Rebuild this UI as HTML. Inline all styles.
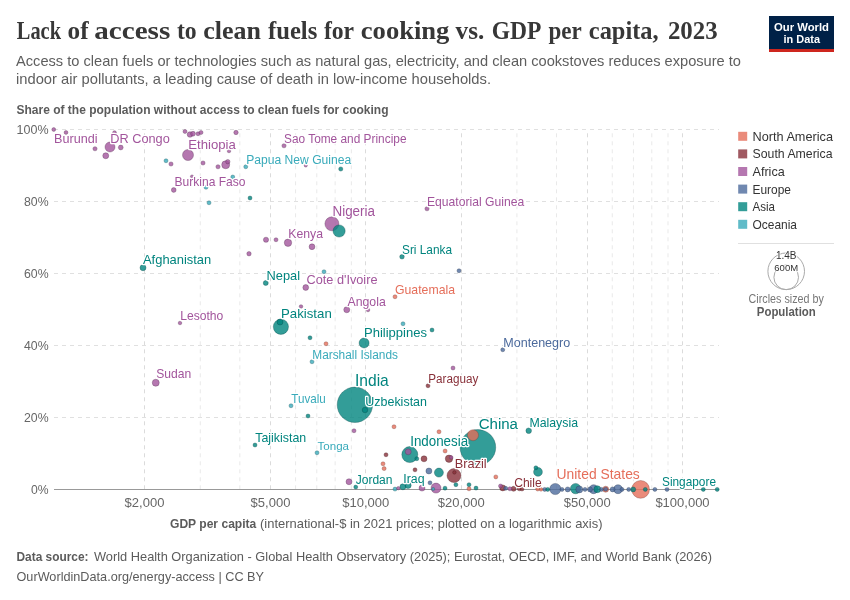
<!DOCTYPE html>
<html><head><meta charset="utf-8"><title>Lack of access to clean fuels for cooking vs. GDP per capita, 2023</title>
<style>
html,body{margin:0;padding:0;background:#fff;}
body{width:850px;height:600px;overflow:hidden;font-family:"Liberation Sans",sans-serif;}
svg{display:block;will-change:transform;}
text{font-family:"Liberation Sans",sans-serif;}
.ser{font-family:"Liberation Serif",serif;}
</style></head><body>
<svg width="850" height="600" viewBox="0 0 850 600">
<rect width="850" height="600" fill="#fff"/>
<g class="ser" font-size="25.4" font-weight="700" fill="#373737"><text class="ser" x="16.8" y="38.8" textLength="44.2" lengthAdjust="spacingAndGlyphs">Lack</text><text class="ser" x="67.6" y="38.8" textLength="21.0" lengthAdjust="spacingAndGlyphs">of</text><text class="ser" x="94.3" y="38.8" textLength="76.0" lengthAdjust="spacingAndGlyphs">access</text><text class="ser" x="176.9" y="38.8" textLength="19.7" lengthAdjust="spacingAndGlyphs">to</text><text class="ser" x="203.2" y="38.8" textLength="57.7" lengthAdjust="spacingAndGlyphs">clean</text><text class="ser" x="268.0" y="38.8" textLength="49.3" lengthAdjust="spacingAndGlyphs">fuels</text><text class="ser" x="323.9" y="38.8" textLength="30.2" lengthAdjust="spacingAndGlyphs">for</text><text class="ser" x="360.8" y="38.8" textLength="88.6" lengthAdjust="spacingAndGlyphs">cooking</text><text class="ser" x="455.6" y="38.8" textLength="28.7" lengthAdjust="spacingAndGlyphs">vs.</text><text class="ser" x="491.8" y="38.8" textLength="49.7" lengthAdjust="spacingAndGlyphs">GDP</text><text class="ser" x="548.5" y="38.8" textLength="33.3" lengthAdjust="spacingAndGlyphs">per</text><text class="ser" x="588.8" y="38.8" textLength="69.9" lengthAdjust="spacingAndGlyphs">capita,</text><text class="ser" x="667.9" y="38.8" textLength="49.8" lengthAdjust="spacingAndGlyphs">2023</text></g>
<text x="16" y="66" font-size="15" fill="#5e5e5e" textLength="725" lengthAdjust="spacingAndGlyphs">Access to clean fuels or technologies such as natural gas, electricity, and clean cookstoves reduces exposure to</text>
<text x="16" y="83.5" font-size="15" fill="#5e5e5e" textLength="475" lengthAdjust="spacingAndGlyphs">indoor air pollutants, a leading cause of death in low-income households.</text>
<g><rect x="769" y="16" width="65" height="36" fill="#002147"/><rect x="769" y="49" width="65" height="3" fill="#ce261e"/><text x="774" y="30.5" font-size="11" font-weight="700" fill="#fff" textLength="55" lengthAdjust="spacingAndGlyphs">Our World</text><text x="783.5" y="42.5" font-size="11" font-weight="700" fill="#fff" textLength="36.5" lengthAdjust="spacingAndGlyphs">in Data</text></g>
<text x="16.5" y="113.7" font-size="13" font-weight="700" fill="#5b5b5b" textLength="372" lengthAdjust="spacingAndGlyphs">Share of the population without access to clean fuels for cooking</text>
<g stroke="#e0e0e0" stroke-width="1" stroke-dasharray="4,4" fill="none">
<line x1="54" y1="129.5" x2="719" y2="129.5"/><line x1="54" y1="201.5" x2="719" y2="201.5"/><line x1="54" y1="273.5" x2="719" y2="273.5"/><line x1="54" y1="345.5" x2="719" y2="345.5"/><line x1="54" y1="417.5" x2="719" y2="417.5"/><line x1="144.50" y1="489.3" x2="144.50" y2="129.5" stroke="#dbdbdb"/><line x1="200.27" y1="489.3" x2="200.27" y2="129.5" stroke="#e9e9e9"/><line x1="239.83" y1="489.3" x2="239.83" y2="129.5" stroke="#e9e9e9"/><line x1="270.50" y1="489.3" x2="270.50" y2="129.5" stroke="#dbdbdb"/><line x1="295.59" y1="489.3" x2="295.59" y2="129.5" stroke="#e9e9e9"/><line x1="316.79" y1="489.3" x2="316.79" y2="129.5" stroke="#e9e9e9"/><line x1="335.15" y1="489.3" x2="335.15" y2="129.5" stroke="#e9e9e9"/><line x1="351.35" y1="489.3" x2="351.35" y2="129.5" stroke="#e9e9e9"/><line x1="365.50" y1="489.3" x2="365.50" y2="129.5" stroke="#dbdbdb"/><line x1="461.50" y1="489.3" x2="461.50" y2="129.5" stroke="#dbdbdb"/><line x1="516.93" y1="489.3" x2="516.93" y2="129.5" stroke="#e9e9e9"/><line x1="556.49" y1="489.3" x2="556.49" y2="129.5" stroke="#e9e9e9"/><line x1="587.50" y1="489.3" x2="587.50" y2="129.5" stroke="#dbdbdb"/><line x1="612.25" y1="489.3" x2="612.25" y2="129.5" stroke="#e9e9e9"/><line x1="633.45" y1="489.3" x2="633.45" y2="129.5" stroke="#e9e9e9"/><line x1="651.81" y1="489.3" x2="651.81" y2="129.5" stroke="#e9e9e9"/><line x1="668.01" y1="489.3" x2="668.01" y2="129.5" stroke="#e9e9e9"/><line x1="682.50" y1="489.3" x2="682.50" y2="129.5" stroke="#dbdbdb"/></g>
<line x1="54" y1="489.5" x2="719" y2="489.5" stroke="#999" stroke-width="1"/>
<text x="16.6" y="133.8" font-size="13" fill="#666" textLength="32" lengthAdjust="spacingAndGlyphs">100%</text><text x="24.0" y="205.8" font-size="13" fill="#666" textLength="24.6" lengthAdjust="spacingAndGlyphs">80%</text><text x="24.0" y="277.8" font-size="13" fill="#666" textLength="24.6" lengthAdjust="spacingAndGlyphs">60%</text><text x="24.0" y="349.8" font-size="13" fill="#666" textLength="24.6" lengthAdjust="spacingAndGlyphs">40%</text><text x="24.0" y="421.8" font-size="13" fill="#666" textLength="24.6" lengthAdjust="spacingAndGlyphs">20%</text><text x="31.0" y="493.8" font-size="13" fill="#666" textLength="17.6" lengthAdjust="spacingAndGlyphs">0%</text>
<text x="144.5" y="507" font-size="13" fill="#666" text-anchor="middle">$2,000</text><text x="270.5" y="507" font-size="13" fill="#666" text-anchor="middle">$5,000</text><text x="365.8" y="507" font-size="13" fill="#666" text-anchor="middle">$10,000</text><text x="461.2" y="507" font-size="13" fill="#666" text-anchor="middle">$20,000</text><text x="587.2" y="507" font-size="13" fill="#666" text-anchor="middle">$50,000</text><text x="682.5" y="507" font-size="13" fill="#666" text-anchor="middle">$100,000</text>
<text x="170" y="528" font-size="13" font-weight="700" fill="#5b5b5b" textLength="86.3" lengthAdjust="spacingAndGlyphs">GDP per capita</text><text x="260" y="528" font-size="13" fill="#5b5b5b" textLength="342.5" lengthAdjust="spacingAndGlyphs">(international-$ in 2021 prices; plotted on a logarithmic axis)</text>
<g fill-opacity="0.8" stroke-width="0.5" stroke-opacity="0.65">
<circle cx="477.9" cy="447.4" r="17.8" fill="#00847E" stroke="#00423f"/><circle cx="354.9" cy="404.8" r="17.7" fill="#00847E" stroke="#00423f"/><circle cx="640.6" cy="489.4" r="8.9" fill="#E56E5A" stroke="#72372d"/><circle cx="409.8" cy="454.6" r="8" fill="#00847E" stroke="#00423f"/><circle cx="280.9" cy="326.8" r="7.6" fill="#00847E" stroke="#00423f"/><circle cx="331.9" cy="223.8" r="7" fill="#A2559C" stroke="#512a4e"/><circle cx="454" cy="475.6" r="7" fill="#883039" stroke="#44181c"/><circle cx="339.1" cy="231" r="6.1" fill="#00847E" stroke="#00423f"/><circle cx="555.3" cy="489.0" r="5.6" fill="#4C6A9C" stroke="#26354e"/><circle cx="188" cy="155" r="5.5" fill="#A2559C" stroke="#512a4e"/><circle cx="473" cy="435.2" r="5.5" fill="#E56E5A" stroke="#72372d"/><circle cx="575.6" cy="488.59999999999997" r="5.2" fill="#00847E" stroke="#00423f"/><circle cx="110" cy="147" r="5" fill="#A2559C" stroke="#512a4e"/><circle cx="364.1" cy="343" r="5" fill="#00847E" stroke="#00423f"/><circle cx="436" cy="488.09999999999997" r="5" fill="#A2559C" stroke="#512a4e"/><circle cx="438.9" cy="472.6" r="4.5" fill="#00847E" stroke="#00423f"/><circle cx="593.6" cy="489.2" r="4.5" fill="#4C6A9C" stroke="#26354e"/><circle cx="618" cy="489.2" r="4.5" fill="#4C6A9C" stroke="#26354e"/><circle cx="538" cy="471.9" r="4.4" fill="#00847E" stroke="#00423f"/><circle cx="225.7" cy="164.75" r="4" fill="#A2559C" stroke="#512a4e"/><circle cx="288" cy="242.75" r="3.7" fill="#A2559C" stroke="#512a4e"/><circle cx="449" cy="458.7" r="3.7" fill="#883039" stroke="#44181c"/><circle cx="155.75" cy="382.75" r="3.5" fill="#A2559C" stroke="#512a4e"/><circle cx="579.3" cy="489.4" r="3.5" fill="#4C6A9C" stroke="#26354e"/><circle cx="597.3" cy="489.2" r="3.5" fill="#00847E" stroke="#00423f"/><circle cx="408" cy="485.3" r="3.2" fill="#00847E" stroke="#00423f"/><circle cx="105.75" cy="155.75" r="3" fill="#A2559C" stroke="#512a4e"/><circle cx="143" cy="267.75" r="3" fill="#00847E" stroke="#00423f"/><circle cx="346.75" cy="309.75" r="3" fill="#A2559C" stroke="#512a4e"/><circle cx="280" cy="322" r="3" fill="#00847E" stroke="#00423f"/><circle cx="408.2" cy="451.8" r="3" fill="#A2559C" stroke="#512a4e"/><circle cx="424" cy="458.8" r="3" fill="#883039" stroke="#44181c"/><circle cx="428.9" cy="471" r="3" fill="#4C6A9C" stroke="#26354e"/><circle cx="349" cy="481.75" r="3" fill="#A2559C" stroke="#512a4e"/><circle cx="402.9" cy="486.8" r="3" fill="#00847E" stroke="#00423f"/><circle cx="422" cy="488.09999999999997" r="3" fill="#A2559C" stroke="#512a4e"/><circle cx="502.7" cy="487.9" r="3" fill="#883039" stroke="#44181c"/><circle cx="605.7" cy="489.2" r="3" fill="#E56E5A" stroke="#72372d"/><circle cx="312" cy="246.75" r="2.9" fill="#A2559C" stroke="#512a4e"/><circle cx="305.75" cy="287.5" r="2.9" fill="#A2559C" stroke="#512a4e"/><circle cx="190" cy="134.5" r="2.8" fill="#A2559C" stroke="#512a4e"/><circle cx="365" cy="410" r="2.8" fill="#00847E" stroke="#00423f"/><circle cx="528.7" cy="430.7" r="2.8" fill="#00847E" stroke="#00423f"/><circle cx="266" cy="239.75" r="2.6" fill="#A2559C" stroke="#512a4e"/><circle cx="265.75" cy="283" r="2.5" fill="#00847E" stroke="#00423f"/><circle cx="513.6" cy="488.79999999999995" r="2.5" fill="#883039" stroke="#44181c"/><circle cx="567.7" cy="489.4" r="2.5" fill="#4C6A9C" stroke="#26354e"/><circle cx="590" cy="489.4" r="2.5" fill="#4C6A9C" stroke="#26354e"/><circle cx="612.6" cy="489.4" r="2.5" fill="#4C6A9C" stroke="#26354e"/><circle cx="633.2" cy="489.4" r="2.5" fill="#00847E" stroke="#00423f"/><circle cx="120.75" cy="147.5" r="2.4" fill="#A2559C" stroke="#512a4e"/><circle cx="193" cy="133.75" r="2.4" fill="#A2559C" stroke="#512a4e"/><circle cx="173.75" cy="190" r="2.4" fill="#A2559C" stroke="#512a4e"/><circle cx="402" cy="256.75" r="2.3" fill="#00847E" stroke="#00423f"/><circle cx="236" cy="132.5" r="2.2" fill="#A2559C" stroke="#512a4e"/><circle cx="227.8" cy="161.7" r="2.2" fill="#A2559C" stroke="#512a4e"/><circle cx="249" cy="253.75" r="2.2" fill="#A2559C" stroke="#512a4e"/><circle cx="95" cy="148.75" r="2.1" fill="#A2559C" stroke="#512a4e"/><circle cx="171" cy="164" r="2.1" fill="#A2559C" stroke="#512a4e"/><circle cx="203" cy="163" r="2.1" fill="#A2559C" stroke="#512a4e"/><circle cx="218" cy="166.75" r="2.1" fill="#A2559C" stroke="#512a4e"/><circle cx="284" cy="145.75" r="2.1" fill="#A2559C" stroke="#512a4e"/><circle cx="340.75" cy="169" r="2.1" fill="#00847E" stroke="#00423f"/><circle cx="427" cy="208.75" r="2.1" fill="#A2559C" stroke="#512a4e"/><circle cx="185" cy="131.5" r="2" fill="#A2559C" stroke="#512a4e"/><circle cx="198" cy="133.75" r="2" fill="#A2559C" stroke="#512a4e"/><circle cx="201" cy="132.5" r="2" fill="#A2559C" stroke="#512a4e"/><circle cx="166" cy="160.75" r="2" fill="#38AABA" stroke="#1c555d"/><circle cx="245.75" cy="166.75" r="2" fill="#38AABA" stroke="#1c555d"/><circle cx="232.75" cy="177" r="2" fill="#38AABA" stroke="#1c555d"/><circle cx="206" cy="187.3" r="2" fill="#38AABA" stroke="#1c555d"/><circle cx="209" cy="202.75" r="2" fill="#38AABA" stroke="#1c555d"/><circle cx="250" cy="198" r="2" fill="#00847E" stroke="#00423f"/><circle cx="276" cy="239.75" r="2" fill="#A2559C" stroke="#512a4e"/><circle cx="324" cy="271.75" r="2" fill="#38AABA" stroke="#1c555d"/><circle cx="395" cy="296.75" r="2" fill="#E56E5A" stroke="#72372d"/><circle cx="403" cy="323.75" r="2" fill="#38AABA" stroke="#1c555d"/><circle cx="432" cy="330" r="2" fill="#00847E" stroke="#00423f"/><circle cx="310" cy="337.75" r="2" fill="#00847E" stroke="#00423f"/><circle cx="326" cy="343.75" r="2" fill="#E56E5A" stroke="#72372d"/><circle cx="312" cy="361.75" r="2" fill="#38AABA" stroke="#1c555d"/><circle cx="453" cy="368" r="2" fill="#A2559C" stroke="#512a4e"/><circle cx="428" cy="385.75" r="2" fill="#883039" stroke="#44181c"/><circle cx="291" cy="405.75" r="2" fill="#38AABA" stroke="#1c555d"/><circle cx="459" cy="270.75" r="2" fill="#4C6A9C" stroke="#26354e"/><circle cx="502.75" cy="349.75" r="2" fill="#4C6A9C" stroke="#26354e"/><circle cx="308" cy="416" r="2" fill="#00847E" stroke="#00423f"/><circle cx="354" cy="430.75" r="2" fill="#A2559C" stroke="#512a4e"/><circle cx="394" cy="426.75" r="2" fill="#E56E5A" stroke="#72372d"/><circle cx="439" cy="431.75" r="2" fill="#E56E5A" stroke="#72372d"/><circle cx="255" cy="445" r="2" fill="#00847E" stroke="#00423f"/><circle cx="317" cy="452.75" r="2" fill="#38AABA" stroke="#1c555d"/><circle cx="386" cy="454.75" r="2" fill="#883039" stroke="#44181c"/><circle cx="416.8" cy="458.7" r="2" fill="#00847E" stroke="#00423f"/><circle cx="445.1" cy="451" r="2" fill="#E56E5A" stroke="#72372d"/><circle cx="383" cy="463.8" r="2" fill="#E56E5A" stroke="#72372d"/><circle cx="384.1" cy="468.6" r="2" fill="#E56E5A" stroke="#72372d"/><circle cx="415" cy="469.8" r="2" fill="#883039" stroke="#44181c"/><circle cx="495.8" cy="476.9" r="2" fill="#E56E5A" stroke="#72372d"/><circle cx="355.75" cy="487" r="2" fill="#00847E" stroke="#00423f"/><circle cx="395" cy="489.09999999999997" r="2" fill="#38AABA" stroke="#1c555d"/><circle cx="430" cy="482.8" r="2" fill="#4C6A9C" stroke="#26354e"/><circle cx="445" cy="488.2" r="2" fill="#00847E" stroke="#00423f"/><circle cx="455.9" cy="484.7" r="2" fill="#00847E" stroke="#00423f"/><circle cx="469" cy="484.7" r="2" fill="#00847E" stroke="#00423f"/><circle cx="469" cy="488.79999999999995" r="2" fill="#E56E5A" stroke="#72372d"/><circle cx="476" cy="488.09999999999997" r="2" fill="#00847E" stroke="#00423f"/><circle cx="535.9" cy="467.8" r="2" fill="#00847E" stroke="#00423f"/><circle cx="500.5" cy="486" r="2" fill="#A2559C" stroke="#512a4e"/><circle cx="505.7" cy="488.29999999999995" r="2" fill="#4C6A9C" stroke="#26354e"/><circle cx="509.9" cy="488.79999999999995" r="2" fill="#A2559C" stroke="#512a4e"/><circle cx="519.3" cy="488.79999999999995" r="2" fill="#883039" stroke="#44181c"/><circle cx="522" cy="489.0" r="2" fill="#883039" stroke="#44181c"/><circle cx="537.7" cy="489.0" r="2" fill="#E56E5A" stroke="#72372d"/><circle cx="544.7" cy="489.4" r="2" fill="#4C6A9C" stroke="#26354e"/><circle cx="547.7" cy="489.4" r="2" fill="#00847E" stroke="#00423f"/><circle cx="562" cy="489.4" r="2" fill="#4C6A9C" stroke="#26354e"/><circle cx="585" cy="489.4" r="2" fill="#4C6A9C" stroke="#26354e"/><circle cx="601.5" cy="489.4" r="2" fill="#4C6A9C" stroke="#26354e"/><circle cx="605.7" cy="489.2" r="2" fill="#4C6A9C" stroke="#26354e"/><circle cx="622" cy="489.4" r="2" fill="#4C6A9C" stroke="#26354e"/><circle cx="628.7" cy="489.4" r="2" fill="#4C6A9C" stroke="#26354e"/><circle cx="645.3" cy="489.4" r="2" fill="#00847E" stroke="#00423f"/><circle cx="654.9" cy="489.4" r="2" fill="#4C6A9C" stroke="#26354e"/><circle cx="667" cy="489.4" r="2" fill="#4C6A9C" stroke="#26354e"/><circle cx="703.3" cy="489.4" r="2" fill="#00847E" stroke="#00423f"/><circle cx="717.2" cy="489.4" r="2" fill="#00847E" stroke="#00423f"/><circle cx="53.75" cy="129.5" r="1.9" fill="#A2559C" stroke="#512a4e"/><circle cx="66" cy="132.5" r="1.9" fill="#A2559C" stroke="#512a4e"/><circle cx="114.5" cy="132.6" r="1.9" fill="#A2559C" stroke="#512a4e"/><circle cx="229" cy="151" r="1.8" fill="#A2559C" stroke="#512a4e"/><circle cx="180" cy="323" r="1.8" fill="#A2559C" stroke="#512a4e"/><circle cx="301" cy="306.5" r="1.8" fill="#A2559C" stroke="#512a4e"/><circle cx="368" cy="310" r="1.8" fill="#A2559C" stroke="#512a4e"/><circle cx="451.2" cy="457.4" r="1.8" fill="#A2559C" stroke="#512a4e"/><circle cx="454.4" cy="472.4" r="1.8" fill="#883039" stroke="#44181c"/><circle cx="541" cy="489.4" r="1.8" fill="#E56E5A" stroke="#72372d"/><circle cx="398.3" cy="488.2" r="1.7" fill="#A2559C" stroke="#512a4e"/><circle cx="192" cy="176.5" r="1.6" fill="#A2559C" stroke="#512a4e"/><circle cx="305.75" cy="165.5" r="1.6" fill="#A2559C" stroke="#512a4e"/><circle cx="433.2" cy="489.0" r="1.6" fill="#38AABA" stroke="#1c555d"/></g>
<g stroke="#fff" stroke-width="2.6" paint-order="stroke" stroke-linejoin="round">
<text x="54.0" y="142.5" font-size="13.0" fill="#A2559C" textLength="43.5" lengthAdjust="spacingAndGlyphs">Burundi</text><text x="110.25" y="142.5" font-size="13.1" fill="#A2559C" textLength="59.5" lengthAdjust="spacingAndGlyphs">DR Congo</text><text x="188.25" y="148.8" font-size="13.5" fill="#A2559C" textLength="47.5" lengthAdjust="spacingAndGlyphs">Ethiopia</text><text x="174.5" y="186.2" font-size="12.4" fill="#A2559C" textLength="71.0" lengthAdjust="spacingAndGlyphs">Burkina Faso</text><text x="143.0" y="263.9" font-size="13.3" fill="#00847E" textLength="68.25" lengthAdjust="spacingAndGlyphs">Afghanistan</text><text x="246.25" y="163.75" font-size="12.5" fill="#38AABA" textLength="105.0" lengthAdjust="spacingAndGlyphs">Papua New Guinea</text><text x="284.0" y="142.5" font-size="12.3" fill="#A2559C" textLength="122.5" lengthAdjust="spacingAndGlyphs">Sao Tome and Principe</text><text x="332.5" y="215.75" font-size="13.8" fill="#A2559C" textLength="42.5" lengthAdjust="spacingAndGlyphs">Nigeria</text><text x="288.25" y="238" font-size="12.6" fill="#A2559C" textLength="34.75" lengthAdjust="spacingAndGlyphs">Kenya</text><text x="427.0" y="205.75" font-size="12.6" fill="#A2559C" textLength="97.25" lengthAdjust="spacingAndGlyphs">Equatorial Guinea</text><text x="402.0" y="253.9" font-size="12.2" fill="#00847E" textLength="50.0" lengthAdjust="spacingAndGlyphs">Sri Lanka</text><text x="180.25" y="319.5" font-size="12.4" fill="#A2559C" textLength="43.0" lengthAdjust="spacingAndGlyphs">Lesotho</text><text x="156.25" y="378" font-size="12.4" fill="#A2559C" textLength="35.0" lengthAdjust="spacingAndGlyphs">Sudan</text><text x="266.5" y="279.9" font-size="13.1" fill="#00847E" textLength="33.5" lengthAdjust="spacingAndGlyphs">Nepal</text><text x="306.5" y="284" font-size="13.1" fill="#A2559C" textLength="71.0" lengthAdjust="spacingAndGlyphs">Cote d'Ivoire</text><text x="395.0" y="294.1" font-size="12.6" fill="#E56E5A" textLength="60.0" lengthAdjust="spacingAndGlyphs">Guatemala</text><text x="347.5" y="305.75" font-size="12.6" fill="#A2559C" textLength="38.25" lengthAdjust="spacingAndGlyphs">Angola</text><text x="281.0" y="318" font-size="13.6" fill="#00847E" textLength="50.75" lengthAdjust="spacingAndGlyphs">Pakistan</text><text x="364.0" y="337" font-size="13.4" fill="#00847E" textLength="63.0" lengthAdjust="spacingAndGlyphs">Philippines</text><text x="312.25" y="359" font-size="12.3" fill="#38AABA" textLength="85.75" lengthAdjust="spacingAndGlyphs">Marshall Islands</text><text x="355.0" y="385.6" font-size="15.9" fill="#00847E" textLength="33.75" lengthAdjust="spacingAndGlyphs">India</text><text x="428.25" y="382.9" font-size="12.0" fill="#883039" textLength="50.0" lengthAdjust="spacingAndGlyphs">Paraguay</text><text x="291.25" y="402.5" font-size="11.9" fill="#38AABA" textLength="34.5" lengthAdjust="spacingAndGlyphs">Tuvalu</text><text x="365.25" y="406.3" font-size="12.9" fill="#00847E" textLength="61.75" lengthAdjust="spacingAndGlyphs">Uzbekistan</text><text x="503.25" y="347.1" font-size="13.0" fill="#4C6A9C" textLength="67.0" lengthAdjust="spacingAndGlyphs">Montenegro</text><text x="255.25" y="442.2" font-size="12.8" fill="#00847E" textLength="51.0" lengthAdjust="spacingAndGlyphs">Tajikistan</text><text x="317.5" y="449.9" font-size="11.8" fill="#38AABA" textLength="31.5" lengthAdjust="spacingAndGlyphs">Tonga</text><text x="355.75" y="483.9" font-size="12.3" fill="#00847E" textLength="36.75" lengthAdjust="spacingAndGlyphs">Jordan</text><text x="403.25" y="482.6" font-size="12.5" fill="#00847E" textLength="21.25" lengthAdjust="spacingAndGlyphs">Iraq</text><text x="410.2" y="445.9" font-size="13.8" fill="#00847E" textLength="57.9" lengthAdjust="spacingAndGlyphs">Indonesia</text><text x="478.7" y="428.6" font-size="15.4" fill="#00847E" textLength="39.3" lengthAdjust="spacingAndGlyphs">China</text><text x="454.8" y="467.9" font-size="13.1" fill="#883039" textLength="31.9" lengthAdjust="spacingAndGlyphs">Brazil</text><text x="514.2" y="486.5" font-size="12.3" fill="#883039" textLength="27.5" lengthAdjust="spacingAndGlyphs">Chile</text><text x="529.4" y="426.7" font-size="12.7" fill="#00847E" textLength="48.6" lengthAdjust="spacingAndGlyphs">Malaysia</text><text x="556.5" y="479" font-size="14.3" fill="#E56E5A" textLength="83.3" lengthAdjust="spacingAndGlyphs">United States</text><text x="662.0" y="486.3" font-size="12.2" fill="#00847E" textLength="54.0" lengthAdjust="spacingAndGlyphs">Singapore</text></g>
<rect x="738.2" y="131.8" width="9" height="9" fill="#E56E5A" fill-opacity="0.8"/><text x="752.5" y="140.7" font-size="12.6" fill="#333" textLength="80.5" lengthAdjust="spacingAndGlyphs">North America</text><rect x="738.2" y="149.4" width="9" height="9" fill="#883039" fill-opacity="0.8"/><text x="752.5" y="158.3" font-size="12.6" fill="#333" textLength="80" lengthAdjust="spacingAndGlyphs">South America</text><rect x="738.2" y="167.0" width="9" height="9" fill="#A2559C" fill-opacity="0.8"/><text x="752.5" y="175.9" font-size="12.6" fill="#333" textLength="32.25" lengthAdjust="spacingAndGlyphs">Africa</text><rect x="738.2" y="184.6" width="9" height="9" fill="#4C6A9C" fill-opacity="0.8"/><text x="752.5" y="193.5" font-size="12.6" fill="#333" textLength="38.5" lengthAdjust="spacingAndGlyphs">Europe</text><rect x="738.2" y="202.2" width="9" height="9" fill="#00847E" fill-opacity="0.8"/><text x="752.5" y="211.1" font-size="12.6" fill="#333" textLength="22.5" lengthAdjust="spacingAndGlyphs">Asia</text><rect x="738.2" y="219.8" width="9" height="9" fill="#38AABA" fill-opacity="0.8"/><text x="752.5" y="228.7" font-size="12.6" fill="#333" textLength="44.5" lengthAdjust="spacingAndGlyphs">Oceania</text>
<line x1="738" y1="243.5" x2="834" y2="243.5" stroke="#e0e0e0" stroke-width="1"/>
<circle cx="786.2" cy="271.3" r="18.3" fill="none" stroke="#aaa" stroke-width="1"/><circle cx="786.2" cy="277.3" r="12.3" fill="none" stroke="#aaa" stroke-width="1"/>
<g text-anchor="middle" stroke="#fff" stroke-width="1.6" paint-order="stroke" stroke-linejoin="round"><text x="786.2" y="258.6" font-size="10" fill="#333">1.4B</text><text x="786.2" y="271" font-size="9.5" fill="#333">600M</text></g>
<text x="748.6" y="302.5" font-size="12" fill="#777" textLength="75.2" lengthAdjust="spacingAndGlyphs">Circles sized by</text><text x="756.8" y="316.3" font-size="12" font-weight="700" fill="#5b5b5b" textLength="59" lengthAdjust="spacingAndGlyphs">Population</text>
<text x="16.5" y="561.3" font-size="13" font-weight="700" fill="#5b5b5b" textLength="72" lengthAdjust="spacingAndGlyphs">Data source:</text><text x="94" y="561.3" font-size="13" fill="#5b5b5b" textLength="618" lengthAdjust="spacingAndGlyphs">World Health Organization - Global Health Observatory (2025); Eurostat, OECD, IMF, and World Bank (2026)</text>
<text x="16.5" y="581" font-size="13" fill="#5b5b5b" textLength="247.5" lengthAdjust="spacingAndGlyphs">OurWorldinData.org/energy-access | CC BY</text>
</svg></body></html>
